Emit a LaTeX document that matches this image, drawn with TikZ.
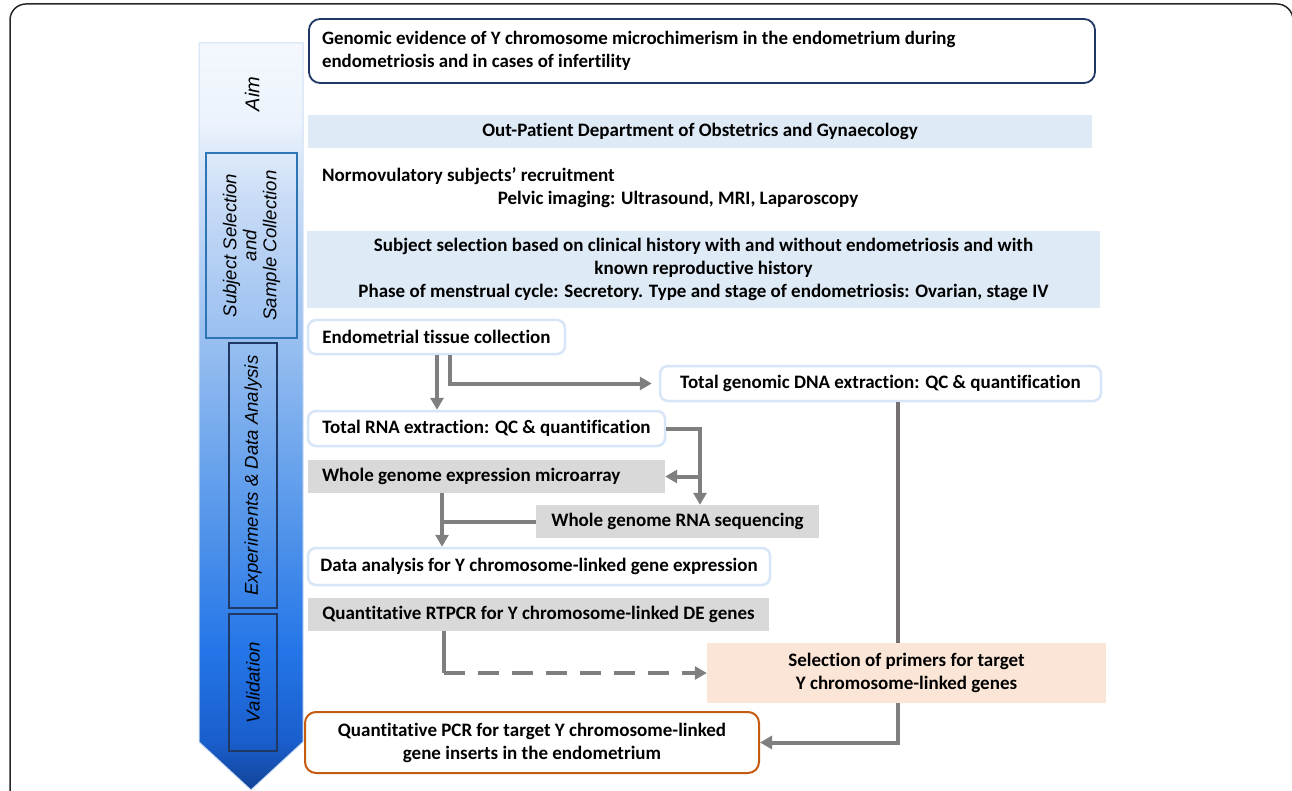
\documentclass[tikz,border=0pt]{standalone}
\usepackage{fontspec}
\setmainfont{Carlito}[Ligatures=NoCommon]
\newfontfamily\sidefont{Liberation Sans}
\usetikzlibrary{arrows.meta}

\definecolor{framegrey}{RGB}{40,40,40}
\definecolor{navy}{RGB}{31,56,100}
\definecolor{midblue}{RGB}{46,117,182}
\definecolor{paleblue}{RGB}{222,234,246}
\definecolor{edgeblue}{RGB}{214,229,248}
\definecolor{boxgrey}{RGB}{217,217,217}
\definecolor{peach}{RGB}{251,229,214}
\definecolor{rust}{RGB}{197,90,17}
\definecolor{arrowgrey}{RGB}{127,127,127}
\definecolor{linegrey}{RGB}{118,113,113}
\definecolor{barEdge}{RGB}{205,222,245}
\definecolor{barA}{RGB}{18,68,150}
\definecolor{barB}{RGB}{26,94,205}
\definecolor{barC}{RGB}{36,118,232}
\definecolor{barD}{RGB}{92,155,235}
\definecolor{barE}{RGB}{149,189,240}
\definecolor{barF}{RGB}{201,220,246}
\definecolor{barG}{RGB}{236,243,252}
\definecolor{barH}{RGB}{244,248,253}

\pgfdeclareverticalshading{stagebar}{100bp}{color(0bp)=(barA); color(25bp)=(barA);
  color(28.3bp)=(barB); color(34.4bp)=(barC); color(44.4bp)=(barD); color(54.5bp)=(barE);
  color(64.5bp)=(barF); color(69.8bp)=(barG); color(75bp)=(barH); color(100bp)=(barH)}

\newcommand{\boxfont}{\fontsize{19}{23}\selectfont\bfseries}
\newcommand{\titlefont}{\fontsize{18.9}{23}\selectfont\bfseries}
\newcommand{\sidelblfont}{\sidefont\itshape\fontsize{18.6}{20}\selectfont}

\tikzset{
  tintbox/.style={fill=paleblue, inner sep=0pt, align=center},
  greybox/.style={fill=boxgrey, inner sep=0pt, align=center},
  edgebox/.style={draw=edgeblue, line width=2.5pt, rounded corners=8pt, fill=white, inner sep=0pt, align=center},
  sidelbl/.style={rotate=90, font=\sidelblfont, align=center, inner sep=0pt, line width=2pt},
  flowarrow/.style={draw=arrowgrey, line width=4pt, -{Triangle[length=12pt,width=13pt]}},
  linkline/.style={draw=linegrey, line width=4pt}
}

\begin{document}
\begin{tikzpicture}[x=1pt,y=1pt,yscale=-1,every node/.style={font=\boxfont}]
\useasboundingbox (0,0) rectangle (1292,791);

%Shape: outer frame
\draw[line width=1.5pt, color=framegrey, rounded corners=16pt] (10,820) -- (10,4) -- (1293,4) -- (1293,820);

%Shape: stage arrow
\shade[shading=stagebar, draw=barEdge, line width=1pt] (199,43) -- (303,43) -- (303,742) -- (251,790) -- (199,742) -- cycle;

% Stage labels
\node[sidelbl, font=\sidefont\itshape\fontsize{20}{20}\selectfont] (aimlbl) at (252,94) {Aim};
\node[sidelbl, draw=midblue, minimum width=185pt, minimum height=91pt] (sssc) at (251.5,245.5) {Subject Selection\\and\\Sample Collection};
\node[sidelbl, draw=navy, minimum width=265pt, minimum height=48pt] (expt) at (253,475.5) {Experiments \& Data Analysis};
\node[sidelbl, draw=navy, minimum width=137pt, minimum height=48pt] (valid) at (253,682.5) {Validation};

% Text Node
\node[draw=navy, line width=1.8pt, rounded corners=11pt, minimum width=786pt, minimum height=64pt, text width=760pt, align=flush left, inner sep=0pt, font=\titlefont] (aim) at (702,51) {Genomic evidence of Y chromosome microchimerism in the endometrium during\\endometriosis and in cases of infertility};
% Text Node
\node[tintbox, minimum width=784pt, minimum height=33pt] (opd) at (700,131.5) {Out-Patient Department of Obstetrics and Gynaecology};
% Text Node
\node[anchor=west, inner sep=0pt] (recruit) at (322,176) {Normovulatory subjects’ recruitment};
\node[inner sep=0pt] (imaging) at (678,199) {Pelvic imaging: Ultrasound, MRI, Laparoscopy};
% Text Node
\node[tintbox, minimum width=793pt, minimum height=77pt] (select) at (703.5,269.5) {Subject selection based on clinical history with and without endometriosis and with\\known reproductive history\\Phase of menstrual cycle: Secretory. Type and stage of endometriosis: Ovarian, stage IV};
% Text Node
\node[edgebox, minimum width=257pt, minimum height=34pt] (tissue) at (436.5,337) {Endometrial tissue collection};
\node[edgebox, minimum width=441pt, minimum height=35pt] (dna) at (880.5,383.5) {Total genomic DNA extraction: QC \& quantification};
\node[edgebox, minimum width=357pt, minimum height=35pt] (rna) at (486.5,428.5) {Total RNA extraction: QC \& quantification};
\node[greybox, minimum width=357pt, minimum height=33pt, text width=329pt, align=flush left] (micro) at (486.5,476.5) {Whole genome expression microarray};
\node[greybox, minimum width=283pt, minimum height=33pt] (rnaseq) at (677.5,521.5) {Whole genome RNA sequencing};
\node[edgebox, minimum width=462pt, minimum height=37pt] (data) at (539,566.5) {Data analysis for Y chromosome-linked gene expression};
\node[greybox, minimum width=461pt, minimum height=33pt] (rtpcr) at (538.5,614.5) {Quantitative RTPCR for Y chromosome-linked DE genes};
\node[fill=peach, inner sep=0pt, align=center, minimum width=399pt, minimum height=60pt] (primers) at (906.5,673) {Selection of primers for target\\Y chromosome-linked genes};
\node[draw=rust, line width=2pt, rounded corners=11pt, fill=white, inner sep=0pt, align=center, minimum width=454pt, minimum height=61pt] (qpcr) at (532,742.5) {Quantitative PCR for target Y chromosome-linked\\gene inserts in the endometrium};

% Connector columns
\coordinate (c1) at (437,0);
\coordinate (c2) at (450,0);
\coordinate (c3) at (700,0);
\coordinate (c4) at (442,0);
\coordinate (c5) at (444,0);
\coordinate (c6) at (898,0);

%Straight Lines
\draw[flowarrow] (c1 |- tissue.south) -- (c1 |- rna.north);
\draw[flowarrow, shorten >=7pt] (c2 |- tissue.south) |- (dna.west);
\draw[flowarrow] (rna.east) -| (c3 |- rnaseq.north);
\draw[flowarrow] (c3 |- micro.east) -- (micro.east);
\draw[flowarrow] (c4 |- micro.south) -- (c4 |- data.north);
\draw[draw=arrowgrey, line width=4pt] (rnaseq.west) -- (c4 |- rnaseq.west);
\draw[draw=arrowgrey, line width=4pt] (c5 |- rtpcr.south) -- (c5 |- primers.west);
\draw[flowarrow, dash pattern=on 21pt off 13pt] (c5 |- primers.west) -- (primers.west);
\draw[linkline] (c6 |- dna.south) -- (c6 |- primers.north);
\draw[flowarrow] (c6 |- primers.south) |- (qpcr.east);

\end{tikzpicture}
\end{document}
